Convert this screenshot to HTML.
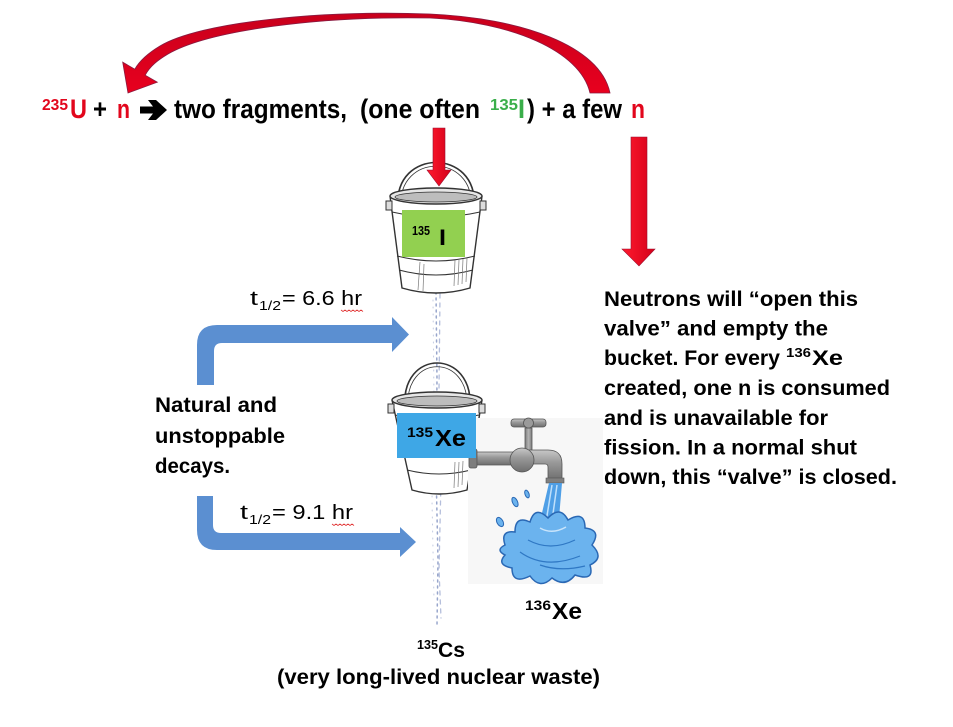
<!DOCTYPE html>
<html>
<head>
<meta charset="utf-8">
<style>
  html,body{margin:0;padding:0;background:#ffffff;}
  svg{display:block;}
  text{font-family:"Liberation Sans",Arial,sans-serif;}
  .b{font-weight:bold;}
</style>
</head>
<body>
<svg width="953" height="727" viewBox="0 0 953 727" xmlns="http://www.w3.org/2000/svg">
  <defs>
    <linearGradient id="redH" x1="0" y1="0" x2="1" y2="0">
      <stop offset="0" stop-color="#ff1a2e"/>
      <stop offset="1" stop-color="#d4001a"/>
    </linearGradient>
    <linearGradient id="redArc" x1="0" y1="0" x2="0" y2="1">
      <stop offset="0" stop-color="#c8001c"/>
      <stop offset="1" stop-color="#e8001e"/>
    </linearGradient>
    <linearGradient id="metal" x1="0" y1="0" x2="0" y2="1">
      <stop offset="0" stop-color="#c8c8c8"/>
      <stop offset="0.4" stop-color="#9a9a9a"/>
      <stop offset="1" stop-color="#6e6e6e"/>
    </linearGradient>
    <linearGradient id="metalV" x1="0" y1="0" x2="1" y2="0">
      <stop offset="0" stop-color="#7a7a7a"/>
      <stop offset="0.5" stop-color="#b4b4b4"/>
      <stop offset="1" stop-color="#7a7a7a"/>
    </linearGradient>
  </defs>

  <!-- big curved red arrow -->
  <path d="M610,93 C600,45 520,18 430,14 C320,10 200,22 160,46 C150,52 140,60 134.8,69.2 L122.7,62.2 L128,93 L157.3,82.2 L145.2,75.2 C150,66 158,60 168,54 C210,30 320,16 430,18 C510,22 580,50 590,93 Z"
        fill="url(#redArc)" stroke="#8a1a40" stroke-width="0.8"/>

  <!-- equation -->
  <text x="42" y="110" class="b" font-size="16" fill="#e2061c" textLength="26" lengthAdjust="spacingAndGlyphs">235</text>
  <text x="70" y="118" class="b" font-size="27" fill="#e2061c" textLength="17" lengthAdjust="spacingAndGlyphs">U</text>
  <text x="93" y="118" class="b" font-size="27" fill="#000" textLength="14" lengthAdjust="spacingAndGlyphs">+</text>
  <text x="117" y="118" class="b" font-size="27" fill="#e2061c" textLength="13" lengthAdjust="spacingAndGlyphs">n</text>
  <path d="M140,106.5 L153,106.5 L148,100 L156,100 L167,110 L156,120 L148,120 L153,113.5 L140,113.5 Z" fill="#000"/>
  <text x="174" y="118" class="b" font-size="27" fill="#000" textLength="173" lengthAdjust="spacingAndGlyphs">two fragments,</text>
  <text x="360" y="118" class="b" font-size="27" fill="#000" textLength="120" lengthAdjust="spacingAndGlyphs">(one often</text>
  <text x="490" y="110" class="b" font-size="16" fill="#3aae4a" textLength="28" lengthAdjust="spacingAndGlyphs">135</text>
  <text x="518" y="118" class="b" font-size="27" fill="#3aae4a" textLength="7" lengthAdjust="spacingAndGlyphs">I</text>
  <text x="527" y="118" class="b" font-size="27" fill="#000" textLength="95" lengthAdjust="spacingAndGlyphs">) + a few</text>
  <text x="631" y="118" class="b" font-size="27" fill="#e2061c" textLength="14" lengthAdjust="spacingAndGlyphs">n</text>

  <!-- water stream (dotted) -->
  <g fill="none" stroke-linecap="round">
    <path d="M436,292 L437,380 L436,470 L438,560 L437,625" stroke="#98a6cc" stroke-width="1.5" stroke-dasharray="2 4"/>
    <path d="M440,294 L439,390 L441,480 L439,570 L441,618" stroke="#b4bedb" stroke-width="1.3" stroke-dasharray="4 5"/>
    <path d="M433,300 L434,400 L432,500 L434,600" stroke="#c4cce2" stroke-width="1" stroke-dasharray="1 6"/>
  </g>

  <!-- bucket 1 -->
  <g stroke="#333" fill="none">
    <path d="M398,206 C394,148 478,148 474,206" stroke-width="1.6"/>
    <path d="M401,206 C398,153 474,153 471,206" stroke-width="0.8"/>
    <path d="M390,196 L402,288 Q436,298 470,288 L482,196" fill="#ffffff" stroke-width="1.4"/>
    <ellipse cx="436" cy="196" rx="46" ry="8" fill="#e6e6e6" stroke-width="1.4"/>
    <ellipse cx="436" cy="197" rx="41" ry="5" fill="#bdbdbd" stroke-width="0.8"/>
    <path d="M392,212 Q436,222 480,212" stroke-width="1"/>
    <path d="M397,256 Q436,266 475,256" stroke-width="1"/>
    <path d="M399,270 Q436,280 473,270" stroke-width="1"/>
    <rect x="386" y="201" width="6" height="9" fill="#ddd" stroke-width="1"/>
    <rect x="480" y="201" width="6" height="9" fill="#ddd" stroke-width="1"/>
    <g stroke="#777" stroke-width="0.7">
      <path d="M455,260 L454,286 M459,260 L458,285 M463,259 L462,284 M467,258 L466,282"/>
      <path d="M420,262 L418,290 M424,264 L423,291"/>
    </g>
  </g>
  <rect x="402" y="210" width="63" height="47" fill="#92d050"/>
  <text x="412" y="235" class="b" font-size="13" fill="#000" textLength="18" lengthAdjust="spacingAndGlyphs">135</text>
  <text x="439" y="245" class="b" font-size="22" fill="#000" textLength="7" lengthAdjust="spacingAndGlyphs">I</text>

  <!-- red arrow into bucket -->
  <polygon points="433,128 445,128 445,170 451,170 439,186 427,170 433,170" fill="url(#redH)" stroke="#9a1030" stroke-width="0.6"/>

  <!-- bucket 2 -->
  <g stroke="#333" fill="none">
    <path d="M405,408 C400,348 474,348 470,408" stroke-width="1.6"/>
    <path d="M408,408 C404,353 470,353 467,408" stroke-width="0.8"/>
    <path d="M392,400 L412,490 Q439,498 467,490 L482,400" fill="#ffffff" stroke-width="1.4"/>
    <ellipse cx="437" cy="400" rx="45" ry="8" fill="#e6e6e6" stroke-width="1.4"/>
    <ellipse cx="437" cy="401" rx="40" ry="5" fill="#bdbdbd" stroke-width="0.8"/>
    <path d="M395,415 Q437,424 479,415" stroke-width="1"/>
    <path d="M407,470 Q439,478 471,470" stroke-width="1"/>
    <rect x="388" y="404" width="6" height="9" fill="#ddd" stroke-width="1"/>
    <rect x="479" y="404" width="6" height="9" fill="#ddd" stroke-width="1"/>
    <g stroke="#777" stroke-width="0.7">
      <path d="M455,462 L454,488 M459,462 L458,487 M463,461 L462,485"/>
    </g>
  </g>

  <!-- faucet image background -->
  <rect x="468" y="418" width="135" height="166" fill="#f7f7f7"/>

  <!-- faucet -->
  <rect x="470" y="452" width="48" height="13" rx="2" fill="url(#metal)" stroke="#555" stroke-width="0.8"/>
  <rect x="469" y="449" width="8" height="19" rx="2" fill="#7d7d7d" stroke="#555" stroke-width="0.8"/>
  <rect x="525" y="428" width="7" height="24" fill="url(#metalV)" stroke="#555" stroke-width="0.8"/>
  <rect x="511" y="419" width="35" height="8" rx="3" fill="url(#metal)" stroke="#555" stroke-width="0.8"/>
  <circle cx="528.5" cy="423" r="5" fill="#9a9a9a" stroke="#555" stroke-width="0.8"/>
  <path d="M522,450 L548,450 Q562,450 562,464 L562,480 L548,480 L548,467 Q548,464 545,464 L522,464 Z" fill="url(#metal)" stroke="#555" stroke-width="0.8"/>
  <circle cx="522" cy="460" r="12" fill="url(#metal)" stroke="#555" stroke-width="0.8"/>
  <rect x="546" y="478" width="18" height="5" fill="#808080" stroke="#555" stroke-width="0.6"/>

  <!-- water -->
  <polygon points="549,483 562,483 558,530 538,530" fill="#4f9fe6"/>
  <path d="M552,485 L545,528 M557,485 L551,528" stroke="#bfe0fb" stroke-width="1.5"/>
  <path d="M505,545 Q500,530 515,532 Q515,515 530,522 Q535,505 548,518 Q560,505 568,520 Q585,510 585,528 Q602,530 592,545 Q605,558 590,565 Q595,582 575,575 Q565,588 552,578 Q540,590 530,576 Q512,585 512,568 Q496,565 505,555 Q495,550 505,545 Z"
        fill="#6bb3ee" stroke="#2a68b4" stroke-width="1.5"/>
  <path d="M520,552 Q545,570 580,556 M528,540 Q550,552 575,540 M540,565 Q560,572 585,566" stroke="#2f78c4" stroke-width="1.2" fill="none"/>
  <path d="M540,528 Q552,535 566,527" stroke="#c8e4fb" stroke-width="1.5" fill="none"/>
  <ellipse cx="500" cy="522" rx="3" ry="5" fill="#6bb3ee" stroke="#2a68b4" stroke-width="1" transform="rotate(-30 500 522)"/>
  <ellipse cx="515" cy="502" rx="2.5" ry="5" fill="#6bb3ee" stroke="#2a68b4" stroke-width="1" transform="rotate(-25 515 502)"/>
  <ellipse cx="527" cy="494" rx="2" ry="4" fill="#6bb3ee" stroke="#2a68b4" stroke-width="1" transform="rotate(-20 527 494)"/>

  <!-- blue label on bucket 2 -->
  <rect x="397" y="413" width="79" height="45" fill="#3ea7e6"/>
  <text x="407" y="437" class="b" font-size="14" fill="#000" textLength="26" lengthAdjust="spacingAndGlyphs">135</text>
  <text x="435" y="446" class="b" font-size="23" fill="#000" textLength="31" lengthAdjust="spacingAndGlyphs">Xe</text>

  <!-- right red arrow -->
  <polygon points="631,137 647,137 647,249 655,249 639,266 622,249 631,249" fill="url(#redH)" stroke="#9a1030" stroke-width="0.6"/>

  <!-- blue bent arrows -->
  <path d="M197,385 L197,345 Q197,325 217,325 L392,325 L392,317 L409,334.5 L392,352 L392,343 L222,343 Q214,343 214,351 L214,385 Z" fill="#5b8fd1"/>
  <path d="M197,496 L213,496 L213,525 Q213,533 221,533 L400,533 L400,527 L416,542 L400,557 L400,550 L217,550 Q197,550 197,530 Z" fill="#5b8fd1"/>

  <!-- half-life labels -->
  <text x="250" y="305" font-size="20" fill="#000" textLength="8" lengthAdjust="spacingAndGlyphs">t</text>
  <text x="259" y="310" font-size="13" fill="#000" textLength="22" lengthAdjust="spacingAndGlyphs">1/2</text>
  <text x="282" y="305" font-size="20" fill="#000" textLength="80" lengthAdjust="spacingAndGlyphs">= 6.6 hr</text>
  <path d="M341,310 l2,1.5 l2,-1.5 l2,1.5 l2,-1.5 l2,1.5 l2,-1.5 l2,1.5 l2,-1.5 l2,1.5 l2,-1.5 l2,1.5" fill="none" stroke="#e03030" stroke-width="0.8"/>

  <text x="240" y="519" font-size="20" fill="#000" textLength="8" lengthAdjust="spacingAndGlyphs">t</text>
  <text x="249" y="524" font-size="13" fill="#000" textLength="22" lengthAdjust="spacingAndGlyphs">1/2</text>
  <text x="272" y="519" font-size="20" fill="#000" textLength="81" lengthAdjust="spacingAndGlyphs">= 9.1 hr</text>
  <path d="M332,524 l2,1.5 l2,-1.5 l2,1.5 l2,-1.5 l2,1.5 l2,-1.5 l2,1.5 l2,-1.5 l2,1.5 l2,-1.5 l2,1.5" fill="none" stroke="#e03030" stroke-width="0.8"/>

  <!-- Natural and unstoppable decays -->
  <text x="155" y="412" class="b" font-size="21" fill="#000" textLength="122" lengthAdjust="spacingAndGlyphs">Natural and</text>
  <text x="155" y="443" class="b" font-size="21" fill="#000" textLength="130" lengthAdjust="spacingAndGlyphs">unstoppable</text>
  <text x="155" y="473" class="b" font-size="21" fill="#000" textLength="75" lengthAdjust="spacingAndGlyphs">decays.</text>

  <!-- right paragraph -->
  <text x="604" y="306" class="b" font-size="21" fill="#000" textLength="254" lengthAdjust="spacingAndGlyphs">Neutrons will “open this</text>
  <text x="604" y="335.5" class="b" font-size="21" fill="#000" textLength="224" lengthAdjust="spacingAndGlyphs">valve” and empty the</text>
  <text x="604" y="365" class="b" font-size="21" fill="#000" textLength="176" lengthAdjust="spacingAndGlyphs">bucket. For every</text>
  <text x="786" y="357" class="b" font-size="13" fill="#000" textLength="25" lengthAdjust="spacingAndGlyphs">136</text>
  <text x="812" y="365" class="b" font-size="21" fill="#000" textLength="31" lengthAdjust="spacingAndGlyphs">Xe</text>
  <text x="604" y="395" class="b" font-size="21" fill="#000" textLength="286" lengthAdjust="spacingAndGlyphs">created, one n is consumed</text>
  <text x="604" y="425" class="b" font-size="21" fill="#000" textLength="224" lengthAdjust="spacingAndGlyphs">and is unavailable for</text>
  <text x="604" y="454.5" class="b" font-size="21" fill="#000" textLength="253" lengthAdjust="spacingAndGlyphs">fission. In a normal shut</text>
  <text x="604" y="484" class="b" font-size="21" fill="#000" textLength="293" lengthAdjust="spacingAndGlyphs">down, this “valve” is closed.</text>

  <!-- 136Xe label -->
  <text x="525" y="610" class="b" font-size="14" fill="#000" textLength="26" lengthAdjust="spacingAndGlyphs">136</text>
  <text x="552" y="619" class="b" font-size="23" fill="#000" textLength="30" lengthAdjust="spacingAndGlyphs">Xe</text>

  <!-- 135Cs label -->
  <text x="417" y="649" class="b" font-size="13" fill="#000" textLength="21" lengthAdjust="spacingAndGlyphs">135</text>
  <text x="438" y="657" class="b" font-size="21" fill="#000" textLength="27" lengthAdjust="spacingAndGlyphs">Cs</text>
  <text x="277" y="684" class="b" font-size="21" fill="#000" textLength="323" lengthAdjust="spacingAndGlyphs">(very long-lived nuclear waste)</text>
</svg>
</body>
</html>
